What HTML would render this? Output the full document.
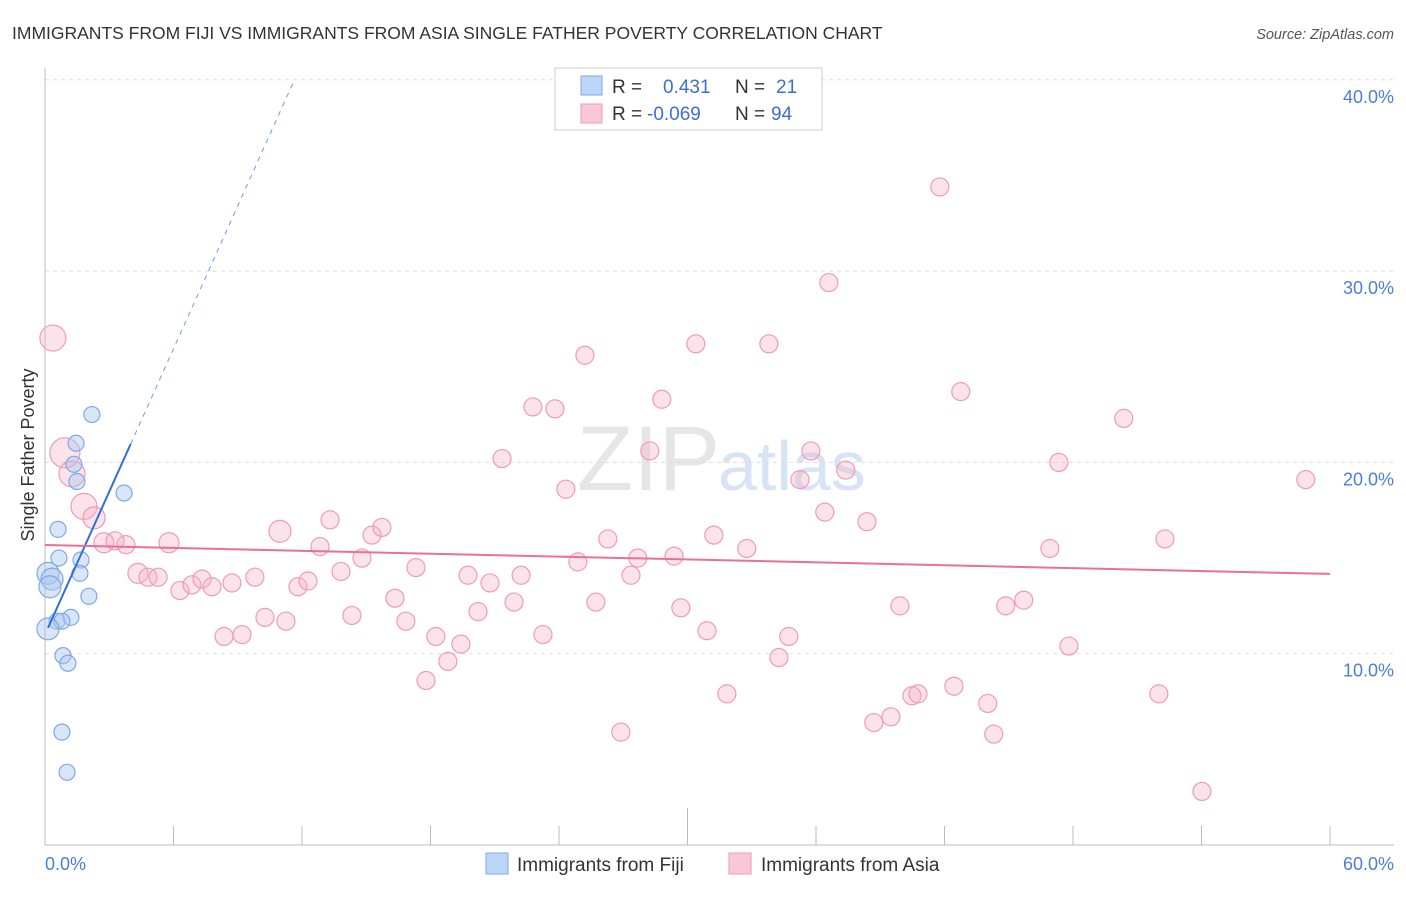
<!DOCTYPE html>
<html><head><meta charset="utf-8"><style>
body{margin:0;background:#fff;font-family:"Liberation Sans",sans-serif}
svg text{font-family:"Liberation Sans",sans-serif}
</style></head><body>
<svg id="c" width="1406" height="892" viewBox="0 0 1406 892" xmlns="http://www.w3.org/2000/svg">
<text x="12" y="39" font-size="17.5" fill="#333">IMMIGRANTS FROM FIJI VS IMMIGRANTS FROM ASIA SINGLE FATHER POVERTY CORRELATION CHART</text>
<text x="1394" y="39" font-size="14.5" fill="#555" font-style="italic" text-anchor="end">Source: ZipAtlas.com</text>
<text x="720" y="490" font-size="92" fill="#e6e6e6" text-anchor="end" font-family="Liberation Serif">ZIP</text>
<text x="718" y="490" font-size="70" fill="#d6e4f5">atlas</text>
<g id="grid"></g><g id="axes"></g>
<text transform="translate(34,455) rotate(-90)" font-size="18" fill="#333" text-anchor="middle">Single Father Poverty</text>
<text x="45" y="870" font-size="18" fill="#4a7fd6">0.0%</text>
<text x="1394" y="870" font-size="18" fill="#4a7fd6" text-anchor="end">60.0%</text>
<g id="pts"></g><g id="lines"></g>
<g>
<rect x="555" y="68" width="267" height="62" fill="#fff" stroke="#ccc"/>
<rect x="581" y="76" width="21" height="19" fill="#bcd6f7" stroke="#7fa9e3"/>
<rect x="581" y="104" width="21" height="19" fill="#f9c7d6" stroke="#ef9ab5"/>
<text x="612" y="93" font-size="19" fill="#333">R = </text><text x="663" y="93" font-size="19" fill="#3a6fd0">0.431</text>
<text x="735" y="93" font-size="19" fill="#333">N = </text><text x="776" y="93" font-size="19" fill="#3a6fd0">21</text>
<text x="612" y="120" font-size="19" fill="#333">R = </text><text x="647" y="120" font-size="19" fill="#3a6fd0">-0.069</text>
<text x="735" y="120" font-size="19" fill="#333">N = </text><text x="771" y="120" font-size="19" fill="#3a6fd0">94</text>
</g>
<g><rect x="486" y="853" width="22" height="21" fill="#bcd6f7" stroke="#7fa9e3"/><text x="517" y="871" font-size="19" fill="#333">Immigrants from Fiji</text></g>
<g><rect x="729" y="853" width="22" height="21" fill="#f9c7d6" stroke="#ef9ab5"/><text x="761" y="871" font-size="19" fill="#333">Immigrants from Asia</text></g>
</svg>
<script>
const yTicks=[10,20,30,40];
const fijiX=[2.19,1.45,1.35,1.49,3.69,0.61,0.65,1.68,1.63,0.14,0.33,0.23,2.05,1.21,0.56,0.79,0.14,0.84,1.07,0.79,1.03];
const fijiY=[22.5,21.0,19.9,19.0,18.4,16.5,15.0,14.9,14.2,14.2,13.9,13.5,13.0,11.9,11.7,11.7,11.3,9.9,9.5,5.9,3.8];
const fijiR=[8,8,8,8,8,8,8,8,8,11,11,11,8,8,8,8,11,8,8,8,8];
const asiaX=[0.37,0.93,1.26,1.82,2.29,2.75,3.27,3.78,5.79,4.34,4.81,5.28,6.30,6.86,7.33,7.80,8.73,9.20,9.80,8.36,10.27,11.25,10.97,11.81,12.28,12.84,13.31,13.82,14.33,14.80,15.27,15.73,16.34,16.85,17.32,17.79,18.25,18.81,19.42,19.75,20.22,20.78,21.34,21.90,22.23,22.78,23.25,23.81,24.32,24.88,25.21,25.72,26.28,26.89,27.36,27.68,28.24,28.80,29.37,29.69,30.39,30.91,31.23,31.84,32.77,33.80,34.27,34.73,35.25,35.76,36.41,36.60,37.39,38.38,38.70,39.50,39.92,40.48,40.76,41.78,42.44,42.76,44.02,44.30,44.86,45.70,46.92,47.34,47.81,50.37,52.01,52.29,54.02,58.87];
const asiaY=[26.5,20.5,19.4,17.7,17.1,15.8,15.9,15.7,15.8,14.2,14.0,14.0,13.3,13.6,13.9,13.5,13.7,11.0,14.0,10.9,11.9,11.7,16.4,13.5,13.8,15.6,17.0,14.3,12.0,15.0,16.2,16.6,12.9,11.7,14.5,8.6,10.9,9.6,10.5,14.1,12.2,13.7,20.2,12.7,14.1,22.9,11.0,22.8,18.6,14.8,25.6,12.7,16.0,5.9,14.1,15.0,20.6,23.3,15.1,12.4,26.2,11.2,16.2,7.9,15.5,26.2,9.8,10.9,19.1,20.6,17.4,29.4,19.6,16.9,6.4,6.7,12.5,7.8,7.9,34.4,8.3,23.7,7.4,5.8,12.5,12.8,15.5,20.0,10.4,22.3,7.9,16.0,2.8,19.1];
const asiaR=[13,15,13,13,11,10,9,9,10,10,9,9,9,9,9,9,9,9,9,9,9,9,11,9,9,9,9,9,9,9,9,9,9,9,9,9,9,9,9,9,9,9,9,9,9,9,9,9,9,9,9,9,9,9,9,9,9,9,9,9,9,9,9,9,9,9,9,9,9,9,9,9,9,9,9,9,9,9,9,9,9,9,9,9,9,9,9,9,9,9,9,9,9,9];
const fijiFit=[11.0,2.49], asiaFit=[15.68,14.17];
const NS='http://www.w3.org/2000/svg';
const X=v=>45+v*1285/60, Y=v=>845-v*19.13;
function mk(t,a,p){const e=document.createElementNS(NS,t);for(const k in a)e.setAttribute(k,a[k]);p.appendChild(e);return e;}
const grid=document.getElementById('grid'),axes=document.getElementById('axes');
yTicks.forEach(t=>{
 const l=mk('line',{x1:45,x2:1394,y1:Y(t),y2:Y(t),stroke:'#ddd','stroke-dasharray':'4,4'},grid);
 
 
 const tx=mk('text',{x:1394,y:Y(t)+23,'font-size':18,fill:'#4a7fd6','text-anchor':'end'},grid);
 tx.textContent=t.toFixed(1)+'%';
 
 
});
mk('line',{x1:45,x2:45,y1:68,y2:845,stroke:'#bbb'},axes);
mk('line',{x1:45,x2:1394,y1:845,y2:845,stroke:'#bbb'},axes);
for(let i=1;i<=10;i++){const xx=X(i*6);const l=mk('line',{x1:xx,x2:xx,y1:i==5?808:826,y2:845,stroke:'#bbb'},axes);
 
 }
const pts=document.getElementById('pts');
asiaX.forEach((v,i)=>{const c=mk('circle',{cx:X(v),cy:Y(asiaY[i]),r:asiaR[i],fill:'rgba(246,176,199,0.35)',stroke:'#ee9bb6','stroke-width':1.2},pts);
 
 });
fijiX.forEach((v,i)=>{const c=mk('circle',{cx:X(v),cy:Y(fijiY[i]),r:fijiR[i],fill:'rgba(170,200,240,0.45)',stroke:'#7fa9e3','stroke-width':1.2},pts);
 
 });
const ln=document.getElementById('lines');
const fx=x=>fijiFit[0]+fijiFit[1]*x;
let a=mk('line',{x1:X(0.14),y1:Y(fx(0.14)),x2:X(4.0),y2:Y(fx(4.0)),stroke:'#2f6fd8','stroke-width':2},ln);


const xe=(40-fijiFit[0])/fijiFit[1];
a=mk('line',{x1:X(4.0),y1:Y(fx(4.0)),x2:X(xe),y2:Y(40),stroke:'#6a9be3','stroke-width':1,'stroke-dasharray':'5,5'},ln);


a=mk('line',{x1:X(0),y1:Y(asiaFit[0]),x2:X(60),y2:Y(asiaFit[1]),stroke:'#e8709a','stroke-width':2},ln);


</script>
</body></html>
